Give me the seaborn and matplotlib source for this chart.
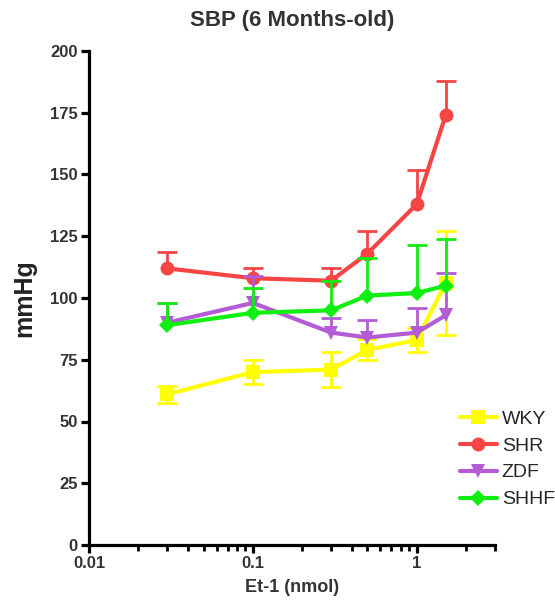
import numpy as np
import pandas as pd
import matplotlib
matplotlib.use("Agg")
import matplotlib.pyplot as plt
import matplotlib.ticker as mticker
import seaborn as sns

# ---- data ----
doses = [0.03, 0.1, 0.3, 0.5, 1.0, 1.5]
groups = ["WKY", "SHR", "ZDF", "SHHF"]
wky = [61, 70, 71, 79, 83, 106]
wky_err = [3.5, 5, 7, 4.3, 5, 21]
shr = [112, 108, 107, 118, 138, 174]
shr_err = [6.5, 4, 5, 9, 14, 14]
zdf = [90, 98, 86, 84, 86, 93]
zdf_err = [8, 11, 6, 7, 10, 17]
shhf = [89, 94, 95, 101, 102, 105]
shhf_err = [9, 10, 12, 15, 19.5, 19]
y_ticks = [0, 25, 50, 75, 100, 125, 150, 175, 200]
x_ticks = [0.01, 0.1, 1]
x_tick_labels = ["0.01", "0.1", "1"]

values = {"WKY": wky, "SHR": shr, "ZDF": zdf, "SHHF": shhf}
errors = {"WKY": wky_err, "SHR": shr_err, "ZDF": zdf_err, "SHHF": shhf_err}
both_sides = {"WKY": True, "SHR": False, "ZDF": False, "SHHF": False}
colors = {"WKY": "#FFFF00", "SHR": "#F54545", "ZDF": "#B35CD6", "SHHF": "#11EE11"}
markers = {"WKY": "s", "SHR": "o", "ZDF": "v", "SHHF": "D"}
msizes = {"WKY": 9.5, "SHR": 10, "ZDF": 10, "SHHF": 8.5}

rows = []
for g in groups:
    for d, v, e in zip(doses, values[g], errors[g]):
        rows.append({"group": g, "dose": d, "sbp": v, "err": e})
df = pd.DataFrame(rows)

sns.set_style("ticks")
plt.rcParams["font.family"] = ["Liberation Sans", "DejaVu Sans"]

fig = plt.figure(figsize=(5.55, 6.12), dpi=100)
ax = fig.add_axes([89 / 555, 1 - 545 / 612, (495 - 89) / 555, (545 - 51) / 612])

for i, g in enumerate(groups):
    sub = df[df.group == g]
    up = sub.err.values
    lo = sub.err.values if both_sides[g] else np.zeros_like(up)
    cont = ax.errorbar(sub.dose, sub.sbp, yerr=[lo, up], fmt="none", ecolor=colors[g],
                       elinewidth=2.0, capsize=7, capthick=2.0, zorder=2 + i)
    if not both_sides[g]:
        caplines = cont.lines[1]
        if len(caplines) >= 2:
            caplines[0].set_visible(False)
    sns.lineplot(data=sub, x="dose", y="sbp", ax=ax, color=colors[g],
                 marker=markers[g], markersize=msizes[g], markeredgewidth=0,
                 linewidth=3.0, label=g, zorder=2.5 + i)

ax.set_xscale("log")
ax.set_xlim(0.01, 3)
ax.set_ylim(0, 200)
ax.set_yticks(y_ticks)
ax.set_xticks(x_ticks)
ax.xaxis.set_major_formatter(mticker.FixedFormatter(x_tick_labels))
ax.xaxis.set_minor_locator(mticker.LogLocator(base=10, subs=np.arange(2, 10)))
ax.xaxis.set_minor_formatter(mticker.NullFormatter())

for s in ["top", "right"]:
    ax.spines[s].set_visible(False)
for s in ["left", "bottom"]:
    ax.spines[s].set_linewidth(2.3)
    ax.spines[s].set_color("black")

ax.tick_params(axis="both", which="major", direction="out", length=6, width=2.3,
               labelsize=12, labelcolor="#333333", color="black", pad=2)
ax.tick_params(axis="x", which="minor", direction="out", length=4, width=2.0, color="black")
for lab in ax.get_xticklabels() + ax.get_yticklabels():
    lab.set_fontweight("bold")

ax.set_xlabel("Et-1 (nmol)", fontsize=13, fontweight="bold", color="#333333", labelpad=6)
ax.set_ylabel("mmHg", fontsize=18, fontweight="bold", color="#222222", labelpad=10)
ax.set_title("SBP (6 Months-old)", fontsize=16, fontweight="bold", color="#333333", pad=18)

leg = ax.legend(loc="upper left", bbox_to_anchor=(460 / 555, 1 - 410 / 612),
                bbox_transform=fig.transFigure, frameon=False, fontsize=14,
                handlelength=1.9, handletextpad=0.25, labelspacing=0.48,
                borderpad=0, borderaxespad=0)

fig.savefig("out.png", dpi=100)
